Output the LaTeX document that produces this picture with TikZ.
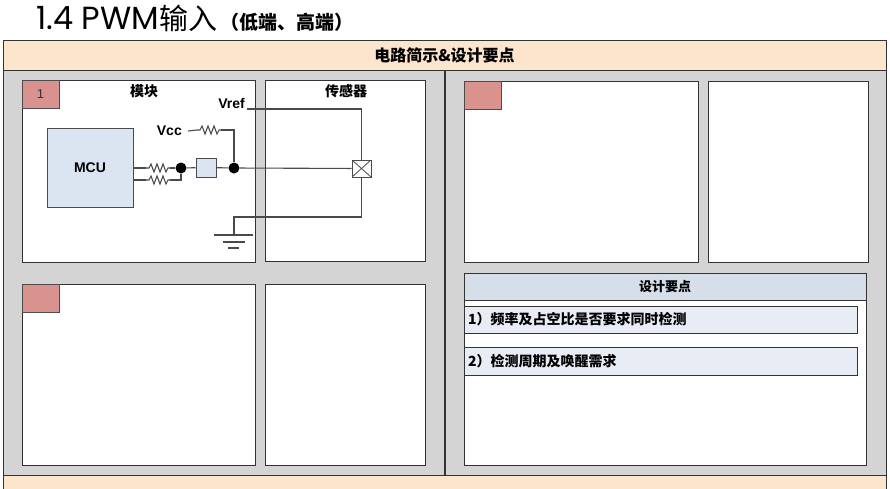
\documentclass[tikz,border=0pt]{standalone}
\usepackage{fontspec}
\setmainfont{Liberation Sans}
\newfontfamily\cjk{Noto Sans CJK SC}
\newfontfamily\titlefont{Poppins}
\definecolor{peach}{HTML}{FCE4CD}
\definecolor{panelgray}{HTML}{D4D4D4}
\definecolor{redsqc}{HTML}{D9928D}
\definecolor{mcufill}{HTML}{DBE5F1}
\definecolor{dzhead}{HTML}{D6DFE9}
\definecolor{dzitem}{HTML}{E8EDF5}
\definecolor{wirec}{HTML}{4A4A4A}
\definecolor{edgec}{HTML}{333333}
\tikzset{
  boxnw/.style={anchor=north west, inner sep=0pt, outer sep=0pt, draw=edgec, line width=0.9pt},
  whitebox/.style={boxnw, fill=white},
  redsq/.style={boxnw, fill=redsqc, minimum width=37pt, minimum height=28pt, draw=black!70},
  wire/.style={draw=wirec, line width=1.1pt},
  dot/.style={circle, fill=black, inner sep=0pt, minimum size=11pt},
  lbl/.style={font=\bfseries\fontsize{14}{14}\selectfont, inner sep=0pt},
  cjklbl/.style={font=\cjk\bfseries\fontsize{14}{14}\selectfont, inner sep=0pt},
  resistor/.pic={\draw[wire] (0,0) -- (3,0) -- (5,-4) -- (8,4) -- (11,-4) -- (14,4) -- (17,-4) -- (20,4) -- (22,0) -- (24,0);}
}
\begin{document}
\begin{tikzpicture}[x=1pt,y=-1pt]
\useasboundingbox (0,0) rectangle (890,488);
\fill[white] (0,0) rectangle (890,488);
% title
\node[anchor=base west, inner sep=0pt, font=\titlefont\fontsize{32}{32}\selectfont] (title) at (36,29)
  {1.4 PWM{\cjk\fontsize{29}{29}\selectfont 输入}\hspace{3pt}{\cjk\bfseries\fontsize{19}{19}\selectfont （低端、高端）}};
% frame
\node[boxnw, fill=panelgray, minimum width=441pt, minimum height=405pt] (lpanel) at (3,70) {};
\node[boxnw, fill=panelgray, minimum width=441pt, minimum height=405pt] (rpanel) at (445,70) {};
\node[boxnw, fill=peach, minimum width=883pt, minimum height=30pt] (hdr) at (3,40) {};
\node[font=\cjk\bfseries\fontsize{16}{16}\selectfont] (hdrtext) at (hdr.center) {电路简示\&设计要点};
\node[boxnw, fill=peach, minimum width=883pt, minimum height=20pt] (ftr) at (3,475) {};
% left boxes
\node[whitebox, minimum width=233pt, minimum height=182pt] (boxA) at (22,80) {};
\node[whitebox, minimum width=160pt, minimum height=181pt] (boxB) at (265,80) {};
\node[whitebox, minimum width=233pt, minimum height=181pt] (boxC) at (22,284) {};
\node[whitebox, minimum width=160pt, minimum height=181pt] (boxD) at (265,284) {};
\node[redsq] (sqA) at (22,80) {};
\node[font=\fontsize{13}{13}\selectfont, text=black!80] (sqAtext) at (sqA.center) {1};
\node[redsq] (sqC) at (22,284) {};
% right boxes
\node[whitebox, minimum width=234pt, minimum height=181pt] (boxE) at (464,81) {};
\node[whitebox, minimum width=160pt, minimum height=181pt] (boxF) at (708,81) {};
\node[redsq] (sqE) at (464,81) {};
% design points
\node[whitebox, minimum width=402pt, minimum height=192pt] (dz) at (464,273) {};
\node[boxnw, fill=dzhead, minimum width=402pt, minimum height=27pt] (dzh) at (464,273) {};
\node[font=\cjk\bfseries\fontsize{13}{13}\selectfont] (dzhtext) at (dzh.center) {设计要点};
\node[boxnw, fill=dzitem, minimum width=393pt, minimum height=27pt] (it1) at (464,306) {};
\node[cjklbl, anchor=west] (it1text) at ([xshift=4pt]it1.west) {1）频率及占空比是否要求同时检测};
\node[boxnw, fill=dzitem, minimum width=393pt, minimum height=28pt] (it2) at (464,347) {};
\node[cjklbl, anchor=west] (it2text) at ([xshift=4pt]it2.west) {2）检测周期及唤醒需求};
% circuit labels
\node[cjklbl] (mod) at (144,91) {模块};
\node[cjklbl] (sensorlbl) at (346,91) {传感器};
\node[lbl, anchor=base east] (vref) at (245,108) {Vref};
\node[lbl, anchor=east] (vcc) at (182,131) {Vcc};
% circuit elements
\node[boxnw, fill=mcufill, draw=wirec, minimum width=86pt, minimum height=79pt, font=\bfseries\fontsize{14}{14}\selectfont] (mcu) at (47,128) {MCU};
\node[dot] (d1) at (181,168) {};
\node[dot] (d2) at (234,168) {};
\node[draw=wirec, fill=mcufill, line width=1pt, minimum width=20pt, minimum height=19pt, inner sep=0pt] (sw) at (206,167.5) {};
\node[draw=wirec, fill=white, line width=1pt, minimum width=19pt, minimum height=17pt, inner sep=0pt,
  path picture={\draw[wirec, line width=0.8pt] (path picture bounding box.north west) -- (path picture bounding box.south east)
   (path picture bounding box.north east) -- (path picture bounding box.south west);}] (sen) at (361.5,168.5) {};
\coordinate (r1a) at (146,168);
\coordinate (r1b) at (170,168);
\coordinate (r2a) at (146,180);
\coordinate (r2b) at (170,180);
\coordinate (r3a) at (197,130);
\coordinate (r3b) at (221,130);
\coordinate (gnd) at (234,217);
\coordinate (gtop) at (234,235);
\coordinate (g2) at (234,242);
\coordinate (g3) at (234,248);
% wires
\draw[wire] (mcu.east |- r1a) -- (r1a);
\pic at (r1a) {resistor};
\draw[wire] (r1b) -- (d1);
\draw[wire] (mcu.east |- r2a) -- (r2a);
\pic at (r2a) {resistor};
\draw[wire] (r2b) -| (d1);
\draw[wire] (d1) -- (sw);
\draw[wire] (sw) -- (d2);
\draw[wire] (d2) -- (sen);
\draw[wire] ([xshift=6pt]vcc.east) -- (r3a);
\pic at (r3a) {resistor};
\draw[wire] (r3b) -| (d2);
\draw[wire] ([xshift=2pt,yshift=-1pt]vref.base east) -| (sen.north);
\draw[wire] (sen.south) |- (gnd) -- (gtop);
\draw[wire] ([xshift=-20pt]gtop) -- ([xshift=19pt]gtop);
\draw[wire] ([xshift=-11pt]g2) -- ([xshift=11pt]g2);
\draw[wire] ([xshift=-6pt]g3) -- ([xshift=5pt]g3);
\end{tikzpicture}
\end{document}
